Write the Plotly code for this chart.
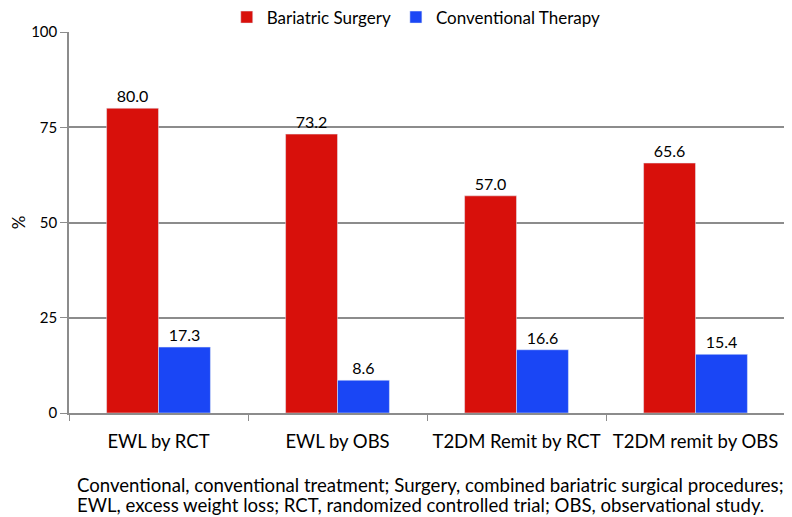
import plotly.graph_objects as go

categories = ["EWL by RCT", "EWL by OBS", "T2DM Remit by RCT", "T2DM remit by OBS"]
surgery = [80.0, 73.2, 57.0, 65.6]
conventional = [17.3, 8.6, 16.6, 15.4]
series_names = ["Bariatric Surgery", "Conventional Therapy"]
y_ticks = [0, 25, 50, 75, 100]
caption_lines = [
    "Conventional, conventional treatment; Surgery, combined bariatric surgical procedures;",
    "EWL, excess weight loss; RCT, randomized controlled trial; OBS, observational study.",
]

FONT = "Lato"
RED = "#D8100B"
BLUE = "#1A46F5"
GRID = "#8c8c8c"

fig = go.Figure()
fig.add_trace(go.Bar(x=categories, y=surgery, name=series_names[0], marker_color=RED,
                     text=[f"{v:.1f}" for v in surgery], textposition="outside",
                     textfont=dict(size=16, color="black", family=FONT), cliponaxis=False))
fig.add_trace(go.Bar(x=categories, y=conventional, name=series_names[1], marker_color=BLUE,
                     text=[f"{v:.1f}" for v in conventional], textposition="outside",
                     textfont=dict(size=16, color="black", family=FONT), cliponaxis=False))

# page body has an 8px margin, so the figure is sized to fill the rest of the window
fig.update_layout(
    width=784, height=509,
    margin=dict(l=61, r=7, t=24, b=104, autoexpand=False),
    paper_bgcolor="white", plot_bgcolor="white",
    barmode="group", bargap=0.42, bargroupgap=0,
    font=dict(family=FONT, size=16, color="black"),
    legend=dict(orientation="h", x=0.485, xanchor="center", y=1.038, yanchor="middle",
                font=dict(size=17, family=FONT), itemwidth=30, tracegroupgap=0,
                borderwidth=0),
    yaxis=dict(range=[0, 100], tickvals=y_ticks, showgrid=True, gridcolor=GRID, gridwidth=1.5,
               showline=True, linecolor=GRID, linewidth=1.5, ticks="outside", ticklen=7,
               tickcolor=GRID, tickfont=dict(size=15, family=FONT), zeroline=False,
               title=dict(text="%", font=dict(size=17, family=FONT), standoff=14)),
    xaxis=dict(showline=True, linecolor=GRID, linewidth=1.5, ticks="outside", ticklen=6,
               tickcolor=GRID, tickson="boundaries", tickfont=dict(size=18.5, family=FONT),
               tickangle=0, ticklabelstandoff=11),
)
# caption lines, centred at ~477 and ~497 px in figure coords (plot spans 24..405)
for line, ypix in zip(caption_lines, [477, 497]):
    fig.add_annotation(text=line, xref="paper", yref="paper",
                       x=(67 - 61) / 716, y=(405 - ypix) / 381, xanchor="left", yanchor="middle",
                       align="left", showarrow=False,
                       font=dict(size=18.6, family=FONT, color="black"))

fig.write_html("out.html")
